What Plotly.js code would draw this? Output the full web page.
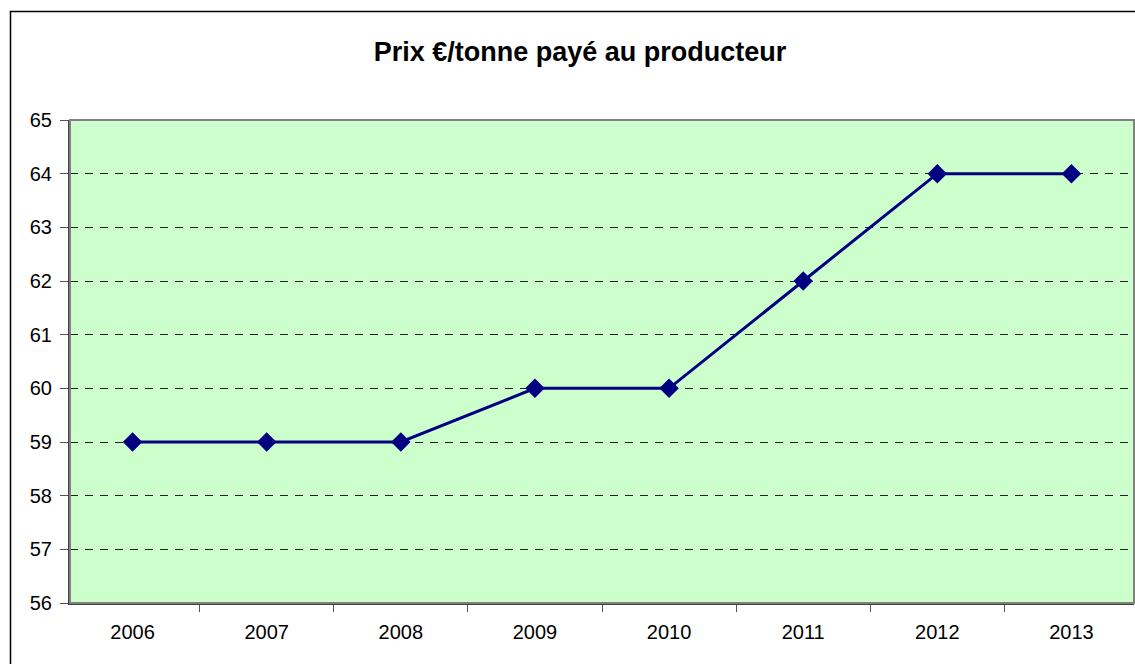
<!DOCTYPE html>
<html>
<head>
<meta charset="utf-8">
<script src="https://cdn.plot.ly/plotly-3.0.1.min.js"></script>
<style>html,body{margin:0;padding:0;background:#fff;}#chart{width:1135px;height:664px;}</style>
</head>
<body>
<div id="chart"></div>
<script>
const years = ['2006','2007','2008','2009','2010','2011','2012','2013'];
const prices = [59, 59, 59, 60, 60, 62, 64, 64];
const yTicks = [56,57,58,59,60,61,62,63,64,65];
const chartTitle = 'Prix €/tonne payé au producteur';

const trace = {
  x: years, y: prices, type: 'scatter', mode: 'lines+markers',
  line: {color: '#000080', width: 3},
  marker: {symbol: 'diamond', size: 15, color: '#000080'},
  cliponaxis: false, hoverinfo: 'x+y'
};

const layout = {
  width: 1135, height: 664,
  margin: {l: 70, r: 1, t: 120, b: 61},
  paper_bgcolor: '#ffffff', plot_bgcolor: '#CCFFCC',
  font: {family: 'Liberation Sans, Arial, sans-serif', color: '#000', size: 20},
  showlegend: false,
  title: {text: '<b>' + chartTitle + '</b>', font: {size: 27, color: '#000'},
          x: 0.511, xanchor: 'center', y: 1 - 52/664, yanchor: 'middle', xref: 'container', yref: 'container'},
  xaxis: {type: 'category', tickson: 'boundaries', ticks: 'outside', ticklen: 7, tickcolor: '#555',
          showline: true, linecolor: '#404040', linewidth: 2, showgrid: false, zeroline: false,
          ticklabelstandoff: 10, fixedrange: true},
  yaxis: {range: [56, 65], tickvals: yTicks, ticks: 'outside', ticklen: 8, tickcolor: '#555',
          showline: true, linecolor: '#404040', linewidth: 2, showgrid: true, gridcolor: '#222',
          gridwidth: 1, griddash: '8px,7px', zeroline: false, ticklabelstandoff: 4, fixedrange: true},
  shapes: [
    {type: 'rect', xref: 'paper', yref: 'paper', x0: 0, x1: 1, y0: 0, y1: 1,
     line: {color: '#808080', width: 2}, fillcolor: 'rgba(0,0,0,0)', layer: 'above'},
    {type: 'rect', xref: 'paper', yref: 'paper', x0: (10.5-70)/1064, x1: 1.2, y0: -0.3, y1: (603-11.5)/483,
     line: {color: '#000', width: 1.5}, fillcolor: 'rgba(0,0,0,0)', layer: 'above'}
  ]
};

Plotly.newPlot('chart', [trace], layout, {displayModeBar: false});
</script>
</body>
</html>
